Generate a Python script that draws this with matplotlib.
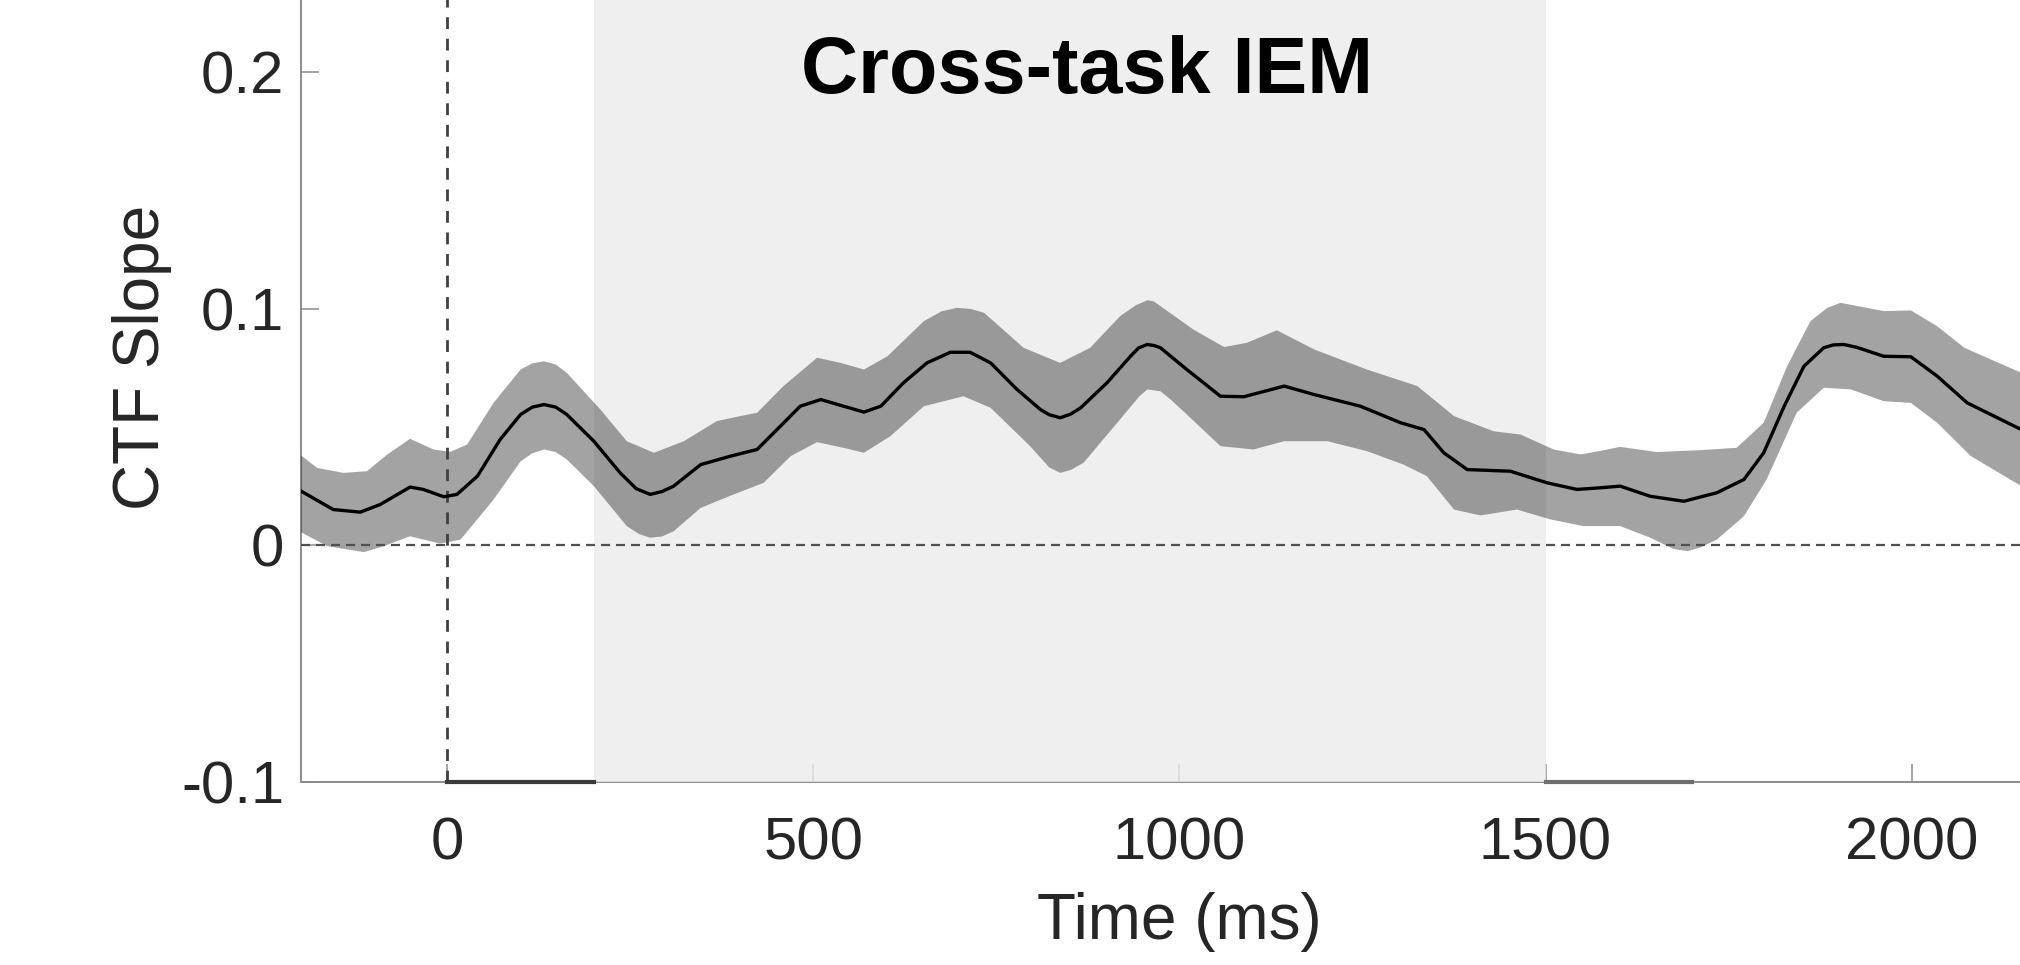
import numpy as np
import matplotlib
matplotlib.use('Agg')
import matplotlib.pyplot as plt

plt.rcParams['font.family'] = ['Liberation Sans', 'DejaVu Sans']
plt.rcParams['lines.scale_dashes'] = False

# mean CTF slope (time in ms, value)
mean_t = [-200, -156, -119, -92, -51, -33, -5, 13, 41, 72, 100, 116, 132, 148, 163, 200, 236, 258,
          277, 293, 309, 346, 387, 423, 455, 482, 510, 541, 569, 592, 623, 655, 687, 714, 742, 778,
          810, 822, 837, 851, 865, 901, 933, 944, 956, 966, 974, 988, 1010, 1056, 1088, 1143, 1184,
          1247, 1302, 1334, 1361, 1393, 1452, 1502, 1543, 1575, 1602, 1643, 1689, 1734, 1771, 1798,
          1826, 1853, 1880, 1893, 1907, 1925, 1962, 1999, 2035, 2076, 2150]
mean_v = [0.023, 0.0152, 0.0141, 0.0173, 0.0247, 0.0237, 0.0206, 0.0216, 0.0293, 0.0448, 0.0554,
          0.0585, 0.0596, 0.0585, 0.0554, 0.0441, 0.0307, 0.024, 0.0216, 0.0228, 0.0251, 0.0342,
          0.0378, 0.0406, 0.0505, 0.0589, 0.0617, 0.0589, 0.0564, 0.0589, 0.0688, 0.0772, 0.0817,
          0.0817, 0.0772, 0.066, 0.0575, 0.0553, 0.054, 0.0555, 0.0582, 0.0688, 0.08, 0.0835, 0.085,
          0.0845, 0.0836, 0.080, 0.0744, 0.0631, 0.0629, 0.0674, 0.0638, 0.0589, 0.0519, 0.049,
          0.0392, 0.0321, 0.0314, 0.0265, 0.0237, 0.0244, 0.0251, 0.0208, 0.0187, 0.0223, 0.0279,
          0.0392, 0.0589, 0.0758, 0.0836, 0.0848, 0.085, 0.0838, 0.08, 0.0798, 0.0716, 0.0603, 0.049]

# upper edge of the error band
up_t = [-200, -178, -142, -110, -82, -51, -19, 4, 27, 63, 100, 116, 132, 148, 163, 209, 245, 282,
        323, 368, 400, 423, 459, 505, 537, 569, 601, 651, 675, 696, 715, 733, 787, 837, 878, 919,
        940, 956, 965, 974, 1019, 1061, 1092, 1133, 1184, 1256, 1325, 1375, 1429, 1466, 1511, 1548,
        1575, 1602, 1652, 1711, 1761, 1798, 1830, 1862, 1885, 1903, 1930, 1962, 1999, 2035, 2072,
        2150]
up_v = [0.0381, 0.0328, 0.0307, 0.0314, 0.0385, 0.0451, 0.0406, 0.0396, 0.0427, 0.0603, 0.0744,
        0.077, 0.0779, 0.0765, 0.073, 0.0575, 0.0441, 0.0392, 0.0441, 0.0526, 0.0547, 0.0561,
        0.0674, 0.0794, 0.0772, 0.0744, 0.08, 0.0949, 0.099, 0.1005, 0.1, 0.0984, 0.0836, 0.0772,
        0.0836, 0.097, 0.1015, 0.1037, 0.1032, 0.1012, 0.0913, 0.0839, 0.0857, 0.091, 0.0829,
        0.0744, 0.0674, 0.0547, 0.0483, 0.0469, 0.0406, 0.0385, 0.0400, 0.0417, 0.0395, 0.0403,
        0.0413, 0.0519, 0.0758, 0.0949, 0.1005, 0.1026, 0.101, 0.0991, 0.0994, 0.0927, 0.0836,
        0.073]

# lower edge of the error band
lo_t = [-200, -164, -114, -87, -51, -10, 18, 63, 100, 116, 132, 148, 163, 200, 245, 262, 277, 293,
        309, 346, 387, 432, 469, 505, 541, 569, 605, 651, 705, 742, 796, 822, 837, 852, 869, 915,
        945, 956, 974, 988, 1010, 1056, 1101, 1143, 1202, 1256, 1306, 1338, 1375, 1411, 1461, 1507,
        1552, 1602, 1643, 1675, 1694, 1712, 1734, 1771, 1802, 1843, 1880, 1917, 1962, 1999, 2035,
        2081, 2150]
lo_v = [0.0056, -0.0003, -0.0028, -0.0003, 0.0039, 0.0008, 0.0025, 0.0194, 0.0356, 0.039, 0.0406,
        0.0395, 0.0364, 0.0251, 0.0082, 0.0048, 0.0033, 0.0038, 0.006, 0.0159, 0.0211, 0.0265,
        0.0378, 0.0437, 0.0413, 0.0392, 0.0462, 0.0589, 0.0631, 0.0582, 0.042, 0.033, 0.0307,
        0.032, 0.035, 0.0519, 0.063, 0.066, 0.0652, 0.0617, 0.0554, 0.042, 0.0406, 0.0441, 0.0441,
        0.0399, 0.0342, 0.0293, 0.0152, 0.0127, 0.0152, 0.011, 0.0082, 0.0082, 0.0033, -0.0015,
        -0.0024, -0.0008, 0.0025, 0.0124, 0.0279, 0.0561, 0.0667, 0.066, 0.061, 0.0603, 0.0519,
        0.0378, 0.0251]

delay_window = [200, 1500]
stim_bars = [[0, 200], [1500, 1700]]
xticks = [0, 500, 1000, 1500, 2000]
yticks = [-0.1, 0, 0.1, 0.2]
ytick_labels = ['-0.1', '0', '0.1', '0.2']

fig = plt.figure(figsize=(20.2, 9.65), dpi=100)
ax = fig.add_axes([0.14901, 0.18964, 0.8698, 0.8578])
ax.set_xlim(-200, 2200)
ax.set_ylim(-0.1, 0.25)

axis_gray = '#8c8c8c'
for side in ['top', 'right']:
    ax.spines[side].set_visible(False)
for side in ['left', 'bottom']:
    ax.spines[side].set_color(axis_gray)
    ax.spines[side].set_linewidth(1.4)
    ax.spines[side].set_zorder(0.5)
ax.set_axisbelow(True)
ax.tick_params(direction='in', length=13, width=1.1, color=axis_gray,
               labelsize=43, labelcolor='#262626')
ax.tick_params(axis='y', pad=12)
ax.tick_params(axis='x', pad=25)
ax.set_xticks(xticks)
ax.set_yticks(yticks)
ax.set_yticklabels(ytick_labels)

# shaded delay period
ax.axvspan(delay_window[0], delay_window[1], color='#ececec', alpha=0.8, lw=0, zorder=1)

# error band and mean
ax.fill(np.concatenate([up_t, lo_t[::-1]]), np.concatenate([up_v, lo_v[::-1]]),
        color='#1a1a1a', alpha=0.4, lw=0, zorder=2)
ax.plot(mean_t, mean_v, color='black', lw=2.4, zorder=3, solid_joinstyle='round')

# reference lines
ax.axhline(0, color='#505050', lw=1.6, dashes=(6.5, 4.3), zorder=2.5)
ax.axvline(0, color='#404040', lw=2.0, dashes=(8.5, 7), zorder=2.5)

# stimulus bars on the time axis
ax.plot(stim_bars[0], [-0.1, -0.1], color='#3a3a3a', lw=3, clip_on=False, zorder=3)
ax.plot(stim_bars[1], [-0.1, -0.1], color='#6e6e6e', lw=3, clip_on=False, zorder=3)

ax.text(873, 0.1915, 'Cross-task IEM', ha='center', va='baseline',
        fontsize=57, fontweight='bold', color='black')

ax.set_xlabel('Time (ms)', fontsize=46, color='#262626')
ax.xaxis.set_label_coords(0.5, -0.133)
ax.set_ylabel('CTF Slope', fontsize=46, color='#262626')
ax.yaxis.set_label_coords(-0.0905, 0.513)
ax.yaxis.label.set_va('center')

fig.savefig('out.png', dpi=100)
